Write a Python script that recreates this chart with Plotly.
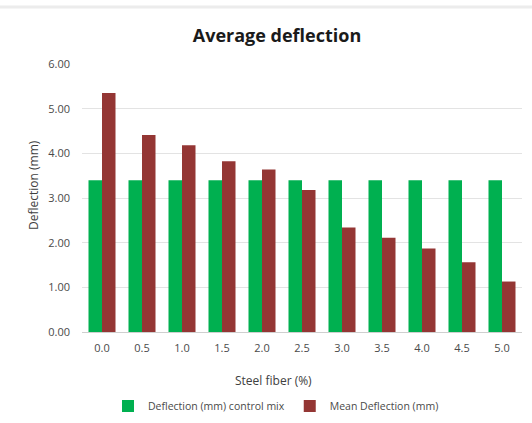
import plotly.graph_objects as go

# Steel fiber content (%) and measured deflections (mm)
fiber_pct = ["0.0", "0.5", "1.0", "1.5", "2.0", "2.5", "3.0", "3.5", "4.0", "4.5", "5.0"]
control_deflection = [3.40, 3.40, 3.40, 3.40, 3.40, 3.40, 3.40, 3.40, 3.40, 3.40, 3.40]
mean_deflection = [5.35, 4.41, 4.18, 3.82, 3.64, 3.18, 2.34, 2.11, 1.87, 1.56, 1.13]
y_ticks = [0, 1, 2, 3, 4, 5, 6]

W, H = 532, 423
FONT = "Open Sans"
GREY = "#4a4a4a"

fig = go.Figure()
fig.add_trace(go.Bar(
    x=fiber_pct, y=control_deflection, name="Deflection (mm) control mix",
    marker=dict(color="#00B050", line=dict(width=0)),
))
fig.add_trace(go.Bar(
    x=fiber_pct, y=mean_deflection, name="Mean Deflection (mm)",
    marker=dict(color="#943634", line=dict(width=0)),
))

fig.update_layout(
    width=W, height=H,
    margin=dict(l=82, r=10, t=64, b=91),
    paper_bgcolor="white", plot_bgcolor="white",
    barmode="group", bargap=0.325, bargroupgap=0,
    font=dict(family=FONT, color=GREY, size=11),
    title=dict(
        text="<b>Average deflection</b>",
        font=dict(family=FONT, size=18, color="#1a1a1a"),
        x=277 / W, xanchor="center", xref="container",
        y=1 - 36 / H, yanchor="middle", yref="container",
    ),
    xaxis=dict(
        type="category", showgrid=False, ticks="", showline=False,
        ticklabelstandoff=8,
        tickfont=dict(size=11, color=GREY),
    ),
    yaxis=dict(
        range=[0, 6], tickvals=y_ticks, tickformat=".2f",
        showgrid=True, gridcolor="#e3e3e3", gridwidth=1,
        zeroline=True, zerolinecolor="#cfcfcf", zerolinewidth=1,
        ticks="", showline=False, ticklabelstandoff=11,
        tickfont=dict(size=11, color=GREY),
    ),
    legend=dict(
        orientation="h", xref="container", yref="container",
        x=108 / W, xanchor="left", y=1 - 406 / H, yanchor="middle",
        font=dict(size=10.5, color=GREY), itemwidth=30,
        traceorder="normal",
    ),
    annotations=[
        dict(text="Steel fiber (%)", xref="paper", yref="paper",
             x=(273 - 82) / (W - 92), y=-(380 - 332) / (332 - 64),
             xanchor="center", yanchor="middle", showarrow=False,
             font=dict(size=12, color="#404040")),
        dict(text="Deflection (mm)", xref="paper", yref="paper", textangle=-90,
             x=-(82 - 33) / (W - 92), y=(332 - 185) / (332 - 64),
             xanchor="center", yanchor="middle", showarrow=False,
             font=dict(size=12, color="#404040")),
    ],
    shapes=[
        dict(type="line", xref="paper", yref="paper", x0=-1, x1=2,
             y0=1 + (64 - 7) / (332 - 64), y1=1 + (64 - 7) / (332 - 64),
             line=dict(color="#ececec", width=3), layer="below"),
    ],
)

fig.write_html("out.html")
